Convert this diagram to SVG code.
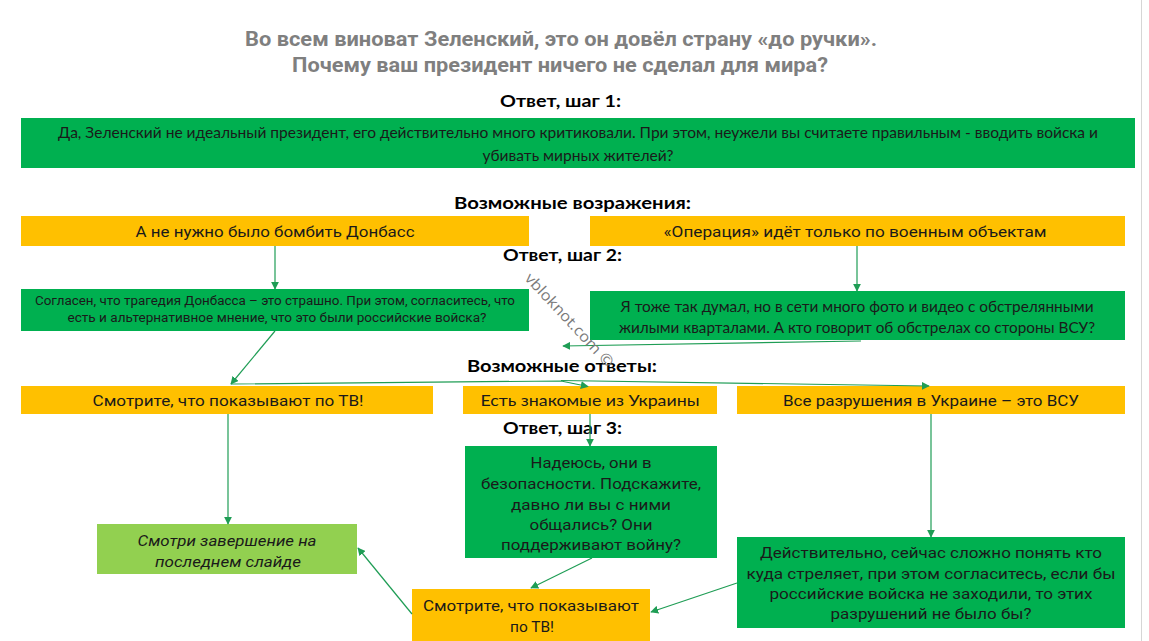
<svg xmlns="http://www.w3.org/2000/svg" width="1149" height="641" viewBox="0 0 1149 641">
<defs>
<style>
.bg{fill:#ffffff}
.g{fill:#00b050}
.y{fill:#ffc000}
.lg{fill:#92d050}
.title{font-family:Roboto,"Liberation Sans",sans-serif;font-weight:bold;font-size:21px;fill:#7f7f7f;text-anchor:middle}
.hd{font-family:Lato,"Liberation Sans",sans-serif;font-weight:bold;font-size:17.5px;fill:#000;text-anchor:middle}
.rb{font-family:Roboto,"Liberation Sans",sans-serif;font-size:15.5px;fill:#1a1a1a;text-anchor:middle}
.rs{font-family:Roboto,"Liberation Sans",sans-serif;font-size:12.5px;fill:#1a1a1a;text-anchor:middle}
.cb{font-family:Lato,"Liberation Sans",sans-serif;font-size:15px;fill:#1a1a1a;text-anchor:middle}
.it{font-style:italic}
.wm{font-family:"Open Sans","Liberation Sans",sans-serif;font-size:15px;fill:#7a7a7a}
.c{fill:none;stroke:#1f9d55;stroke-width:1.2}
</style>
<marker id="ah" viewBox="0 0 10 10" refX="9" refY="5" markerWidth="8" markerHeight="8" markerUnits="userSpaceOnUse" orient="auto">
<path d="M0,0 L10,5 L0,10 z" fill="#1f9d55"/>
</marker>
</defs>
<rect class="bg" x="0" y="0" width="1149" height="641"/>
<line x1="1141.5" y1="0" x2="1141.5" y2="641" stroke="#d6d6d6" stroke-width="1"/>

<g id="title">
<text class="title" x="561" y="46" textLength="632" lengthAdjust="spacingAndGlyphs">Во всем виноват Зеленский, это он довёл страну «до ручки».</text>
<text class="title" x="560" y="72" textLength="536" lengthAdjust="spacingAndGlyphs">Почему ваш президент ничего не сделал для мира?</text>
</g>

<g id="labels">
<text class="hd" x="560.5" y="107" textLength="121" lengthAdjust="spacingAndGlyphs">Ответ, шаг 1:</text>
<text class="hd" x="572.5" y="209" textLength="237" lengthAdjust="spacingAndGlyphs">Возможные возражения:</text>
<text class="hd" x="562.5" y="261" textLength="119" lengthAdjust="spacingAndGlyphs">Ответ, шаг 2:</text>
<text class="hd" x="562" y="372" textLength="190" lengthAdjust="spacingAndGlyphs">Возможные ответы:</text>
<text class="hd" x="562.5" y="434" textLength="119" lengthAdjust="spacingAndGlyphs">Ответ, шаг 3:</text>
</g>

<g id="n-step1">
<rect class="g" x="21" y="118" width="1114" height="50"/>
<text class="cb" x="578" y="138" font-size="15" textLength="1040" lengthAdjust="spacingAndGlyphs">Да, Зеленский не идеальный президент, его действительно много критиковали. При этом, неужели вы считаете правильным - вводить войска и</text>
<text class="cb" x="578" y="161" font-size="15" textLength="191" lengthAdjust="spacingAndGlyphs">убивать мирных жителей?</text>
</g>

<g id="n-obj1">
<rect class="y" x="21" y="216" width="508" height="30"/>
<text class="rb" x="275" y="237" textLength="279" lengthAdjust="spacingAndGlyphs">А не нужно было бомбить Донбасс</text>
</g>

<g id="n-obj2">
<rect class="y" x="590" y="216" width="535" height="30"/>
<text class="rb" x="855" y="237" textLength="383" lengthAdjust="spacingAndGlyphs">«Операция» идёт только по военным объектам</text>
</g>

<g id="n-ans2a">
<rect class="g" x="21" y="289" width="508" height="42"/>
<text class="rs" x="275" y="305" textLength="480" lengthAdjust="spacingAndGlyphs">Согласен, что трагедия Донбасса – это страшно. При этом, согласитесь, что</text>
<text class="rs" x="277" y="322" textLength="419" lengthAdjust="spacingAndGlyphs">есть и альтернативное мнение, что это были российские войска?</text>
</g>

<g id="n-ans2b">
<rect class="g" x="590" y="291" width="535" height="49"/>
<text class="cb" x="857" y="312" textLength="473" lengthAdjust="spacingAndGlyphs">Я тоже так думал, но в сети много фото и видео с обстрелянными</text>
<text class="cb" x="857" y="333" textLength="476" lengthAdjust="spacingAndGlyphs">жилыми кварталами. А кто говорит об обстрелах со стороны ВСУ?</text>
</g>

<g id="n-resp1">
<rect class="y" x="21" y="386" width="412" height="28"/>
<text class="rb" x="228" y="406" textLength="271" lengthAdjust="spacingAndGlyphs">Смотрите, что показывают по ТВ!</text>
</g>

<g id="n-resp2">
<rect class="y" x="463" y="386" width="254" height="28"/>
<text class="cb" x="590" y="406" font-size="15.5" textLength="219" lengthAdjust="spacingAndGlyphs">Есть знакомые из Украины</text>
</g>

<g id="n-resp3">
<rect class="y" x="737" y="386" width="388" height="28"/>
<text class="rb" x="931" y="406" textLength="296" lengthAdjust="spacingAndGlyphs">Все разрушения в Украине – это ВСУ</text>
</g>

<g id="n-ans3">
<rect class="g" x="465" y="446" width="252" height="112"/>
<text class="rb" x="591" y="468" textLength="121" lengthAdjust="spacingAndGlyphs">Надеюсь, они в</text>
<text class="rb" x="591" y="489" textLength="220" lengthAdjust="spacingAndGlyphs">безопасности. Подскажите,</text>
<text class="rb" x="591" y="510" textLength="160" lengthAdjust="spacingAndGlyphs">давно ли вы с ними</text>
<text class="rb" x="591" y="530" textLength="123" lengthAdjust="spacingAndGlyphs">общались? Они</text>
<text class="rb" x="591" y="550" textLength="180" lengthAdjust="spacingAndGlyphs">поддерживают войну?</text>
</g>

<g id="n-ans3b">
<rect class="g" x="737" y="537" width="388" height="91"/>
<text class="rb" x="931" y="558" textLength="342" lengthAdjust="spacingAndGlyphs">Действительно, сейчас сложно понять кто</text>
<text class="rb" x="931" y="579" textLength="369" lengthAdjust="spacingAndGlyphs">куда стреляет, при этом согласитесь, если бы</text>
<text class="rb" x="931" y="599" textLength="323" lengthAdjust="spacingAndGlyphs">российские войска не заходили, то этих</text>
<text class="rb" x="931" y="619" textLength="201" lengthAdjust="spacingAndGlyphs">разрушений не было бы?</text>
</g>

<g id="n-final">
<rect class="lg" x="97" y="524" width="260" height="50"/>
<text class="rb it" x="227" y="546" textLength="179" lengthAdjust="spacingAndGlyphs">Смотри завершение на</text>
<text class="rb it" x="228" y="567" textLength="146" lengthAdjust="spacingAndGlyphs">последнем слайде</text>
</g>

<g id="n-tv">
<rect class="y" x="412" y="589" width="238" height="52"/>
<text class="rb" x="531" y="611" textLength="216" lengthAdjust="spacingAndGlyphs">Смотрите, что показывают</text>
<text class="rb" x="532" y="632" textLength="44" lengthAdjust="spacingAndGlyphs">по ТВ!</text>
</g>

<g id="connectors">
<path class="c" d="M275,246 L275,289" marker-end="url(#ah)"/>
<path class="c" d="M857,246 L857,291" marker-end="url(#ah)"/>
<path class="c" d="M861,341 L563,346" marker-end="url(#ah)"/>
<path class="c" d="M275,331 L231,384" marker-end="url(#ah)"/>
<path class="c" d="M231,384 L561,381 L588,386.5" marker-end="url(#ah)"/>
<path class="c" d="M561,380.5 L929,386" marker-end="url(#ah)"/>
<path class="c" d="M590,414 L590,446" marker-end="url(#ah)"/>
<path class="c" d="M931,414 L931,537" marker-end="url(#ah)"/>
<path class="c" d="M228,414 L228,524" marker-end="url(#ah)"/>
<path class="c" d="M592,558 L531,588" marker-end="url(#ah)"/>
<path class="c" d="M737,583 L651,612" marker-end="url(#ah)"/>
<path class="c" d="M412,614 L358,548" marker-end="url(#ah)"/>
</g>

<text class="wm" transform="translate(524,279) rotate(47)" textLength="122" lengthAdjust="spacingAndGlyphs">vbloknot.com ©</text>
</svg>
